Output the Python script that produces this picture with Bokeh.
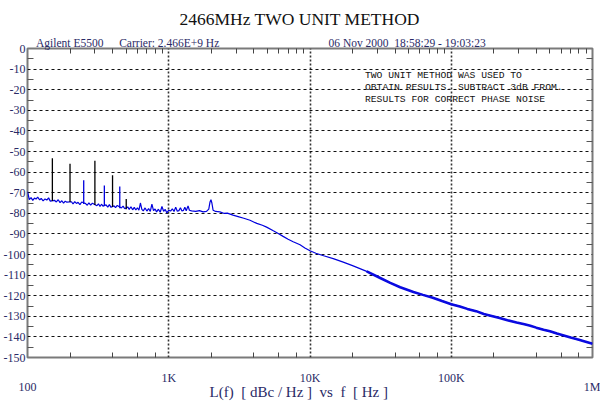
from bokeh.plotting import figure
from bokeh.models import (Range1d, FixedTicker, LinearAxis, LogAxis, Label, ColumnDataSource)
from bokeh.embed import file_html
from bokeh.resources import INLINE

# ---------------- data ----------------
noise_freq = [100, 103, 106, 109, 112, 115, 118, 122, 125, 129, 133, 137, 141, 145,
              155, 160, 165, 170, 175, 180, 185, 190,
              205, 210, 216, 222, 228, 235, 242,
              258, 265, 272, 280, 288,
              310, 318, 326, 334, 342,
              360, 370, 380, 390,
              410, 420, 432,
              462, 475, 488,
              512, 525, 540, 555, 570, 585, 600, 615, 630, 645, 660, 680, 700, 720,
              740, 760, 780, 800, 820, 845, 870, 895, 920, 945, 970, 1000,
              1030, 1060, 1090, 1120, 1150, 1180, 1210, 1240, 1270, 1300, 1330, 1370, 1400,
              1450, 1550, 1650, 1750, 1850, 1920, 1960, 1990, 2020, 2060, 2150, 2300,
              2450, 2600, 2850, 3100, 3400, 3760, 4200, 4600, 4930, 5500, 6000, 6450,
              7000, 7600, 8500, 9200, 10000, 11000, 12500, 14600, 17000, 20000, 25200,
              31400, 37000, 43500, 54000, 63000, 74000, 86000, 100000, 115000, 130000,
              150000, 170000, 190000, 220000, 250000, 290000, 330000, 363000, 400000,
              450000, 500000, 560000, 626000, 700000, 780000, 870000, 1000000]
noise_dbc = [-69.5, -73.3, -72.4, -73.7, -72.6, -73.1, -72.2, -73.5, -72.8, -74.0, -73.0, -73.6, -72.5, -74.1,
             -73.7, -74.5, -73.4, -74.8, -73.9, -75.1, -74.1, -74.6,
             -74.4, -75.5, -74.3, -75.2, -74.7, -75.8, -74.5,
             -75.3, -76.1, -74.9, -76.0, -75.1,
             -76.3, -75.4, -76.7, -75.6, -76.5,
             -75.9, -77.0, -75.8, -77.1,
             -76.4, -77.3, -76.2,
             -77.4, -76.5, -77.8,
             -76.9, -78.1, -76.8, -78.3, -77.1, -78.4, -77.3, -78.5, -75.0, -78.1, -78.8, -77.4, -78.9, -77.7,
             -79.1, -75.5, -78.7, -77.9, -79.3, -78.0, -79.5, -76.7, -79.0, -78.1, -79.8, -78.5,
             -78.9, -77.8, -79.1, -77.0, -79.0, -78.7, -77.3, -78.9, -78.6, -77.1, -78.8, -76.4, -78.5,
             -78.8, -79.1, -78.7, -79.3, -79.1, -78.0, -74.5, -73.4, -75.0, -78.5, -79.1, -79.3,
             -80.0, -79.9, -80.9, -81.6, -82.4, -83.4, -84.9, -85.8, -86.7, -88.5, -89.9, -91.2,
             -92.6, -93.8, -95.3, -96.8, -98.2, -99.4, -100.6, -102.0, -103.6, -105.4, -108.2,
             -111.4, -113.8, -115.9, -118.2, -119.6, -121.0, -122.6, -124.1, -125.2, -126.4,
             -127.5, -128.9, -129.7, -130.8, -131.9, -133.0, -133.9, -134.6, -135.5,
             -136.5, -137.3, -138.4, -139.3, -140.3, -141.2, -142.1, -143.3]

spur_freq = [150, 200, 250, 300, 350, 400, 450, 500]
spur_floor = [-74.0, -74.5, -75.5, -76.0, -76.5, -77.0, -77.5, -78.0]
spur_peak = [-53.3, -56.0, -64.0, -54.5, -66.5, -61.5, -67.0, -73.0]
spur_color = ["black", "black", "#0000dd", "black", "#0000dd", "black", "#0000dd", "black"]

y_ticks = [0, -10, -20, -30, -40, -50, -60, -70, -80, -90, -100, -110, -120, -130, -140, -150]
y_tick_text = ["0", "-10", "-20", "-30", "-40", "-50", "-60", "-70", "-80", "-90",
               "-100", "-110", "-120", "-130", "-140", "-150"]
x_mid_freq = [1000, 10000, 100000]
x_mid_text = ["1K", "10K", "100K"]
x_end_freq = [100, 1000000]
x_end_text = ["100", "1M"]

title_text = "2466MHz TWO UNIT METHOD"
header_freq = [199, 1008, 48700]     # where each header text is centred (on the frequency axis)
header_text = ["Agilent E5500", "Carrier: 2.466E+9 Hz", "06 Nov 2000\u00a0\u00a018:58:29 - 19:03:23"]
note_lines = ["TWO UNIT METHOD WAS USED TO",
              "OBTAIN RESULTS. SUBTRACT 3dB FROM.",
              "RESULTS FOR CORRECT PHASE NOISE"]
x_label_text = "L(f)\u00a0\u00a0[ dBc / Hz ]\u00a0\u00a0vs\u00a0\u00a0f\u00a0\u00a0[ Hz ]"

# ---------------- figure ----------------
NAVY = "#2a2a66"
SERIF = "Liberation Serif"
p = figure(width=600, height=402, x_axis_type="log", output_backend="svg",
           toolbar_location=None, x_range=Range1d(100, 1e6), y_range=Range1d(-150, 0),
           min_border_left=0, min_border_right=8, min_border_top=48, min_border_bottom=40,
           background_fill_color="white", border_fill_color="white")
p.outline_line_color = "#7a7a7a"
p.outline_line_width = 2

p.title.text = title_text
p.title.align = "left"
p.title.offset = 152
p.title.text_font = SERIF
p.title.text_font_size = "17.5px"
p.title.text_font_style = "normal"
p.title.text_color = "#111111"
p.title.standoff = 9

# left axis
minor_y = [v - 5 for v in y_ticks[:-1]]
ya = p.yaxis[0]
ya.ticker = FixedTicker(ticks=y_ticks, minor_ticks=minor_y)
ya.major_label_overrides = {v: t for v, t in zip(y_ticks, y_tick_text)}
ya.major_tick_in = 0
ya.major_tick_out = 0
ya.minor_tick_in = 6
ya.minor_tick_out = 0
ya.minor_tick_line_color = "#555555"
ya.axis_line_color = None
ya.major_label_standoff = 2
ya.major_label_text_font = SERIF
ya.major_label_text_font_size = "12px"
ya.major_label_text_color = NAVY

# right axis (ticks only)
ra = LinearAxis(ticker=FixedTicker(ticks=y_ticks, minor_ticks=minor_y),
                major_tick_in=0, major_tick_out=0, minor_tick_in=6, minor_tick_out=0,
                minor_tick_line_color="#555555", axis_line_color=None,
                major_label_text_font_size="1px", major_label_text_alpha=0,
                major_label_standoff=0)
p.add_layout(ra, "right")

dec = [100, 1000, 10000, 100000]
minor_all = [d * k for d in dec for k in range(2, 10)]
minor_even = [d * k for d in dec for k in (2, 4, 6, 8)]

# bottom axis A: 1K / 10K / 100K
xa = p.xaxis[0]
xa.ticker = FixedTicker(ticks=x_mid_freq, minor_ticks=minor_even)
xa.major_label_overrides = {f: t for f, t in zip(x_mid_freq, x_mid_text)}
xa.major_tick_in = 0
xa.major_tick_out = 0
xa.minor_tick_in = 5
xa.minor_tick_out = 0
xa.minor_tick_line_color = "#444444"
xa.axis_line_color = None
xa.major_label_standoff = 13
xa.major_label_text_font = SERIF
xa.major_label_text_font_size = "12px"
xa.major_label_text_color = NAVY

# bottom axis B: 100 / 1M and the axis title
xb = LogAxis(ticker=FixedTicker(ticks=x_end_freq, minor_ticks=[]),
             major_label_overrides={f: t for f, t in zip(x_end_freq, x_end_text)},
             major_tick_in=0, major_tick_out=0, axis_line_color=None,
             major_label_standoff=-8, major_label_text_font=SERIF,
             major_label_text_font_size="12px", major_label_text_color=NAVY,
             axis_label=x_label_text + "\u00a0" * 6, axis_label_standoff=-13,
             axis_label_text_font=SERIF, axis_label_text_font_size="15px",
             axis_label_text_font_style="normal", axis_label_text_color=NAVY)
p.add_layout(xb, "below")

# top axis: minor ticks + header texts
ta = LogAxis(ticker=FixedTicker(ticks=header_freq, minor_ticks=minor_all),
             major_label_overrides={f: t for f, t in zip(header_freq, header_text)},
             major_tick_in=0, major_tick_out=0, minor_tick_in=5, minor_tick_out=0,
             minor_tick_line_color="#444444", axis_line_color=None,
             major_label_standoff=0, major_label_text_font=SERIF,
             major_label_text_font_size="11.5px", major_label_text_color=NAVY)
p.add_layout(ta, "above")

# grids
p.xgrid[0].ticker = FixedTicker(ticks=[1000, 10000, 100000])
p.xgrid[0].grid_line_color = "#333333"
p.xgrid[0].grid_line_width = 1.6
p.xgrid[0].grid_line_dash = "2 2"
p.ygrid[0].ticker = FixedTicker(ticks=y_ticks[1:-1])
p.ygrid[0].grid_line_color = "#111111"
p.ygrid[0].grid_line_width = 1
p.ygrid[0].grid_line_dash = "3 3"

# trace
src = ColumnDataSource(dict(f=noise_freq, d=noise_dbc))
p.line("f", "d", source=src, line_color="#0000dd", line_width=1.2)
hi = [i for i, f in enumerate(noise_freq) if f >= 25000]
src_hi = ColumnDataSource(dict(f=[noise_freq[i] for i in hi], d=[noise_dbc[i] for i in hi]))
p.line("f", "d", source=src_hi, line_color="#0a0ae0", line_width=2.6)

ssrc = ColumnDataSource(dict(f=spur_freq, lo=spur_floor, hi=spur_peak, c=spur_color))
p.segment(x0="f", y0="lo", x1="f", y1="hi", source=ssrc, line_color="c", line_width=1.3)

# note inside the plot
for i, t in enumerate(note_lines):
    p.add_layout(Label(x=24500, y=-13.3 - 5.8 * i, text=t, text_font="Liberation Mono",
                       text_font_size="9.7px", text_color="#111111",
                       text_align="left", text_baseline="middle"))

open("out.html", "w").write(file_html(p, INLINE))
